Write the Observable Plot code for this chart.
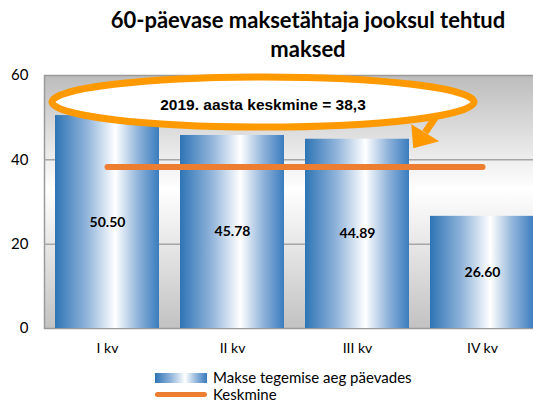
<!DOCTYPE html>
<html><head><meta charset="utf-8">
<script src="https://cdn.jsdelivr.net/npm/d3@7"></script>
<script src="https://cdn.jsdelivr.net/npm/@observablehq/plot@0.6"></script>
<style>
body{margin:0;background:#fff;}
#wrap{position:relative;width:533px;height:403px;overflow:hidden;font-family:Lato,sans-serif;color:#000;}
#title{position:absolute;left:108px;width:400px;top:5px;text-align:center;font-weight:700;font-size:22px;line-height:29px;white-space:nowrap;}
#chart{position:absolute;left:0;top:0;width:545px;}
#chart svg{max-width:none !important;}
.leg{position:absolute;left:155px;font-size:15px;line-height:17px;height:17px;display:flex;align-items:center;white-space:nowrap;}
.sw1{width:52px;height:10px;background:linear-gradient(to right,#2e74b5 0%,#8fb3da 30%,#ffffff 58%,#8fb3da 80%,#3a7cbf 100%);}
.sw2{width:52px;height:5px;border-radius:3px;background:#ed7d31;}
</style></head><body>
<div id="wrap">
<div id="chart"></div>
<div id="title"></div>
<div class="leg" style="top:369px"><span class="sw1"></span><span id="leg1" style="margin-left:6px"></span></div>
<div class="leg" style="top:386px"><span class="sw2"></span><span id="leg2" style="margin-left:6px"></span></div>
</div>
<script>
const titleLines = ["60-päevase maksetähtaja jooksul tehtud", "maksed"];
const quarters = ["I kv", "II kv", "III kv", "IV kv"];
const paymentDays = [50.50, 45.78, 44.89, 26.60];
const yearAverage = 38.3;
const yTicks = [0, 20, 40, 60];
const annotationText = "2019. aasta keskmine = 38,3";
const seriesNames = ["Makse tegemise aeg päevades", "Keskmine"];

document.getElementById("title").innerHTML = titleLines.join("<br>");
document.getElementById("leg1").textContent = seriesNames[0];
document.getElementById("leg2").textContent = seriesNames[1];

const bars = quarters.map((q, i) => ({q, v: paymentDays[i]}));
const mean = quarters.map(q => ({q, v: yearAverage}));

// plot area runs past the right edge of the 533px picture (as in the reference)
const plot = Plot.plot({
  width: 545, height: 403,
  marginTop: 75, marginBottom: 75, marginLeft: 44, marginRight: 1,
  style: {fontFamily: "Lato, sans-serif", background: "transparent", maxWidth: "none"},
  x: {domain: quarters, paddingInner: 0.172, paddingOuter: 0.086, label: null},
  y: {domain: [0, 60], label: null},
  marks: [
    Plot.frame({fill: "url(#bgGrad)", stroke: "#9a9a9a", strokeWidth: 1.5}),
    Plot.ruleY([20, 40], {stroke: "#a6a6a6", strokeWidth: 1.5}),
    Plot.barY(bars, {x: "q", y: "v", fill: "url(#barGrad)"}),
    Plot.text(bars, {x: "q", y: d => d.v / 2, text: d => d.v.toFixed(2), fontWeight: "bold", fontSize: 14, fill: "#000"}),
    Plot.lineY(mean, {x: "q", y: "v", stroke: "#ed7d31", strokeWidth: 6, strokeLinecap: "round"}),
    Plot.axisY({ticks: yTicks, tickSize: 0, tickPadding: 16, fontSize: 15, label: null}),
    Plot.axisX({tickSize: 0, tickPadding: 15, fontSize: 14, label: null})
  ]
});

const svg = d3.select(plot);
const defs = svg.insert("defs", ":first-child");
const bg = defs.append("linearGradient").attr("id", "bgGrad").attr("x1", 0).attr("x2", 0).attr("y1", 0).attr("y2", 1);
[[0, "#bcbcbc"], [0.45, "#ffffff"], [1, "#c2c2c2"]].forEach(([o, c]) => bg.append("stop").attr("offset", o).attr("stop-color", c));
const bg2 = defs.append("linearGradient").attr("id", "barGrad").attr("x1", 0).attr("x2", 1).attr("y1", 0).attr("y2", 0);
[[0, "#2e74b5"], [0.3, "#8fb3da"], [0.58, "#ffffff"], [0.8, "#8fb3da"], [1, "#3a7cbf"]].forEach(([o, c]) => bg2.append("stop").attr("offset", o).attr("stop-color", c));

// annotation (ellipse + arrow) placed via the plot's scales
const ys = plot.scale("y");
const y = d3.scaleLinear(ys.domain, ys.range);
const xs = plot.scale("x");
const xb = d3.scaleBand(xs.domain, xs.range).paddingInner(0.172).paddingOuter(0.086);
const left = xs.range[0];
const cx = left + 219;
const cy = y(53.6);
const ann = svg.append("g");
const orange = "#ff9900";
const endIII = xb("III kv") + xb.bandwidth();
const tip = [endIII + 5, y(42.6)];
ann.append("line").attr("x1", tip[0] + 23).attr("y1", cy + 14).attr("x2", tip[0] + 12).attr("y2", tip[1] - 16)
  .attr("stroke", orange).attr("stroke-width", 7);
ann.append("polygon").attr("points", [[tip[0] - 2, tip[1] - 24], tip, [tip[0] + 26, tip[1] - 7]].map(p => p.join(",")).join(" ")).attr("fill", orange);
ann.append("ellipse").attr("cx", cx).attr("cy", cy).attr("rx", 211).attr("ry", 25)
  .attr("fill", "#fff").attr("stroke", orange).attr("stroke-width", 7);
ann.append("text").attr("x", cx).attr("y", cy + 8).attr("text-anchor", "middle")
  .attr("font-family", "'Liberation Sans', Arial, sans-serif").attr("font-weight", "bold").attr("font-size", 15.5)
  .attr("fill", "#000").text(annotationText);

document.getElementById("chart").appendChild(plot);
</script>
</body></html>
